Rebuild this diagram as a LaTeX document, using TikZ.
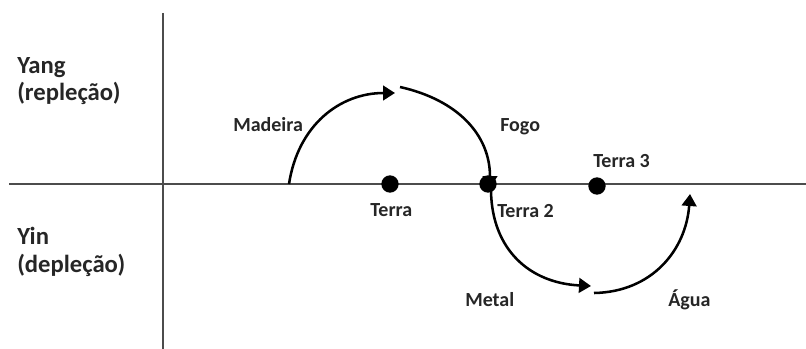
\documentclass[tikz,border=0pt]{standalone}
\usepackage{fontspec}
\setmainfont{Carlito}
\usetikzlibrary{arrows.meta}
\begin{document}
\begin{tikzpicture}[x=0.75pt,y=-0.75pt,
  axis/.style={draw=black!70,line width=1.6pt},
  arc/.style={draw=black,line width=1.9pt,-{Triangle[length=9pt,width=11pt]}},
  dot/.style={circle,fill=black,inner sep=0pt,minimum size=13pt},
  lbl/.style={font=\bfseries\fontsize{15}{17}\selectfont,text=black!85,inner sep=0pt,anchor=base west},
  big/.style={lbl,font=\bfseries\fontsize{18.5}{21}\selectfont}]
\useasboundingbox (0,0) rectangle (806,349);
% axes
\coordinate (hl) at (9,184);
\coordinate (hr) at (806,184);
\coordinate (vt) at (163,13);
\coordinate (vb) at (163,349);
\draw[axis] (hl) -- (hr);
\draw[axis] (vt) -- (vb);
% dots
\node[dot] (t1) at (390,184) {};
\node[dot] (t2) at (488,184) {};
\node[dot] (t3) at (597,186) {};
% arc end points
\coordinate (m0) at (289,184);
\coordinate (m1) at (395,93);
\coordinate (f0) at (400,87);
\coordinate (f1) at (490,188);
\coordinate (e0) at (491,191);
\coordinate (e1) at (591,286);
\coordinate (a0) at (594,293);
\coordinate (a1) at (690,194);
\draw[arc] (m0) .. controls (298,125) and (340,93) .. (m1);
\draw[arc] (f0) .. controls (458,100) and (490,135) .. (f1);
\draw[arc] (e0) .. controls (492,250) and (530,283) .. (e1);
\draw[arc] (a0) .. controls (652,292) and (686,250) .. (a1);
% labels
\node[big] (yang) at (17,74) {Yang};
\node[big] (rep) at (17,101) {(repleção)};
\node[big] (yin) at (17,244) {Yin};
\node[big] (dep) at (17,272) {(depleção)};
\node[lbl] (mad) at (233,132) {Madeira};
\node[lbl] (fogo) at (500,132) {Fogo};
\node[lbl] (ter) at (370,216) {Terra};
\node[lbl] (ter2) at (497,217) {Terra 2};
\node[lbl] (ter3) at (593,167) {Terra 3};
\node[lbl] (met) at (465,306) {Metal};
\node[lbl] (agua) at (668,306) {Água};
\end{tikzpicture}
\end{document}
